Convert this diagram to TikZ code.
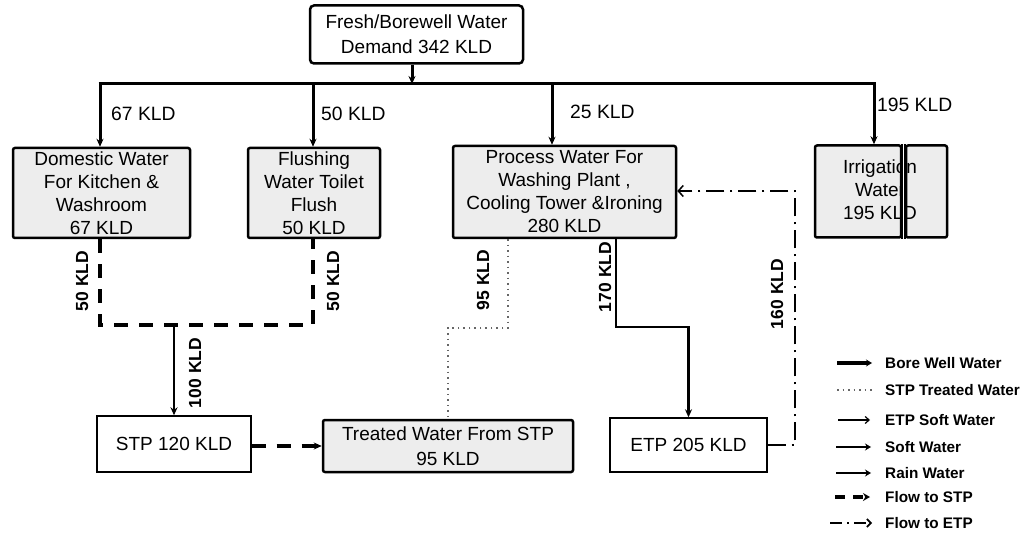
\documentclass[tikz,border=0pt]{standalone}
\usepackage{fontspec}
\setmainfont{Liberation Sans}
\usetikzlibrary{arrows.meta}
\newcommand\bxfont{\fontsize{19}{23}\selectfont}
\newcommand\lblfont{\fontsize{19.3}{22}\selectfont}
\newcommand\rotfont{\fontsize{17.5}{20}\selectfont\bfseries}
\newcommand\legfont{\fontsize{15.3}{17}\selectfont\bfseries}
\tikzset{
  box/.style={draw, line width=2.5pt, fill=black!7, rounded corners=2pt, align=center, inner sep=0pt, font=\bxfont},
  plainbox/.style={draw, line width=1.4pt, fill=white, align=center, inner sep=0pt, font=\bxfont},
  lbl/.style={anchor=west, inner sep=0pt, font=\lblfont},
  rotlbl/.style={rotate=90, inner sep=0pt, font=\rotfont},
  legtext/.style={anchor=west, inner sep=0pt, font=\legfont},
  arr/.style={-{Stealth[length=8pt,width=7pt]}},
  bw/.style={line width=3pt, arr},
  flowstp/.style={line width=3.5pt, dash pattern=on 14pt off 11pt},
  treated/.style={line width=1.2pt, black!60, dash pattern=on 1.5pt off 4pt},
  etpflow/.style={line width=2.2pt, dash pattern=on 18pt off 6pt on 2pt off 6pt},
  openarr/.style={-{Straight Barb[length=5pt,width=11pt,line width=1.5pt]}},
}
\begin{document}
\begin{tikzpicture}[x=1pt,y=-1pt]
\useasboundingbox (0,0) rectangle (1023,537);

% boxes
\node[box, rounded corners=4pt, fill=white, minimum width=213pt, minimum height=58pt, font=\fontsize{19}{25}\selectfont] (top) at (416.5,34.5) {Fresh/Borewell Water\\Demand 342 KLD};
\node[box, minimum width=177pt, minimum height=90pt] (dom) at (101.5,193) {Domestic Water\\For Kitchen \&\\Washroom\\67 KLD};
\node[box, minimum width=132pt, minimum height=90pt] (flu) at (314,193) {Flushing\\Water Toilet\\Flush\\50 KLD};
\node[box, minimum width=223pt, minimum height=92pt] (proc) at (564.5,192) {Process Water For\\Washing Plant ,\\Cooling Tower \&Ironing\\280 KLD};
\node[box, minimum width=86pt, minimum height=92pt] (irrA) at (858,191.5) {};
\node[box, minimum width=41pt, minimum height=92pt] (irrB) at (926.5,191.5) {};
\node[align=center, inner sep=0pt, font=\bxfont] (irr) at (880,190) {Irrigation\\Water\\195 KLD};
\fill[white] (irrA.north east) rectangle (irrB.south west);
\draw[line width=2pt] (irrA.north east) -- (irrA.south east);
\draw[line width=2pt] (irrB.north west) -- (irrB.south west);

\node[plainbox, minimum width=154pt, minimum height=56pt] (stp) at (174,444) {STP 120 KLD};
\node[box, minimum width=250pt, minimum height=52pt, font=\fontsize{19}{25}\selectfont] (tre) at (448,446) {Treated Water From STP\\95 KLD};
\node[plainbox, minimum width=157pt, minimum height=54pt] (etp) at (688.5,445) {ETP 205 KLD};

% main supply
\coordinate (tb) at (412,84);
\coordinate (b1) at (100,84);
\coordinate (b2) at (313,84);
\coordinate (b3) at (552,84);
\coordinate (b4) at (874,84);
\draw[bw] (top.south -| tb) -- (tb);
\draw[line width=3pt] ([xshift=-1.5pt]b1) -- ([xshift=1.5pt]b4);
\draw[bw] (b1) -- (b1 |- dom.north);
\draw[bw] (b2) -- (b2 |- flu.north);
\draw[bw] (b3) -- (b3 |- proc.north);
\draw[bw] (b4) -- (b4 |- irrA.north);
\node[lbl] (l67) at (111,114) {67 KLD};
\node[lbl] (l50) at (321,114) {50 KLD};
\node[lbl] (l25) at (570,112) {25 KLD};
\node[lbl] (l195) at (877,105) {195 KLD};

% flow to STP
\coordinate (j1) at (100,325);
\coordinate (j2) at (313,325);
\coordinate (jm) at (174,325);
\draw[flowstp] (dom.south -| j1) -- (j1) -- (j2) -- (flu.south -| j2);
\draw[line width=2.2pt, arr] (jm) -- (stp.north);
\node[rotlbl] (r50a) at (82,281) {50 KLD};
\node[rotlbl] (r50b) at (333,281) {50 KLD};
\node[rotlbl] (r100) at (195,373) {100 KLD};
\draw[flowstp, arr] (stp.east |- tre.west) -- (tre.west);

% STP treated water
\coordinate (p95a) at (508,328);
\coordinate (p95b) at (448,328);
\draw[treated] (proc.south -| p95a) -- (p95a) -- (p95b) -- (tre.north);
\node[rotlbl] (r95) at (483,280) {95 KLD};

% to ETP
\coordinate (p170a) at (616,327);
\coordinate (p170b) at (688.5,327);
\draw[line width=2.2pt, arr] (proc.south -| p170a) -- (p170a) -- (p170b) -- (etp.north);
\node[rotlbl] (r170) at (605,277) {170 KLD};

% ETP return
\coordinate (c160a) at (795,445);
\coordinate (c160b) at (795,191);
\draw[etpflow, openarr] (etp.east) -- (c160a) -- (c160b) -- (proc.east |- c160b);
\node[rotlbl] (r160) at (777,294) {160 KLD};

% legend
\coordinate (g1a) at (837,363); \coordinate (g1b) at (872,363);
\coordinate (g2a) at (837,390); \coordinate (g2b) at (872,390);
\coordinate (g3a) at (838,420); \coordinate (g3b) at (870,420);
\coordinate (g4a) at (836,447); \coordinate (g4b) at (871,447);
\coordinate (g5a) at (836,473); \coordinate (g5b) at (871,473);
\coordinate (g6a) at (835,497); \coordinate (g6b) at (870,497);
\coordinate (g7a) at (830,523); \coordinate (g7b) at (872,523);
\draw[line width=3pt, -{Stealth[length=6pt,width=7pt]}] (g1a) -- (g1b);
\draw[treated, line width=1.4pt] (g2a) -- (g2b);
\draw[line width=1.2pt, -{Straight Barb[length=4pt,width=7pt]}] (g3a) -- (g3b);
\draw[line width=2.5pt, -{Stealth[length=6pt,width=7pt]}] (g4a) -- (g4b);
\draw[line width=2.2pt, -{Stealth[length=6pt,width=7pt]}] (g5a) -- (g5b);
\draw[line width=3.5pt, dash pattern=on 10pt off 8pt, -{Stealth[length=7pt,width=8pt]}] (g6a) -- (g6b);
\draw[line width=1.6pt, dash pattern=on 12pt off 5pt on 2pt off 5pt, -{Straight Barb[length=4pt,width=8pt]}] (g7a) -- (g7b);
\node[legtext] (t1) at (885,363) {Bore Well Water};
\node[legtext] (t2) at (885,390) {STP Treated Water};
\node[legtext] (t3) at (885,420) {ETP Soft Water};
\node[legtext] (t4) at (885,447) {Soft Water};
\node[legtext] (t5) at (885,473) {Rain Water};
\node[legtext] (t6) at (885,497) {Flow to STP};
\node[legtext] (t7) at (885,523) {Flow to ETP};
\end{tikzpicture}
\end{document}
